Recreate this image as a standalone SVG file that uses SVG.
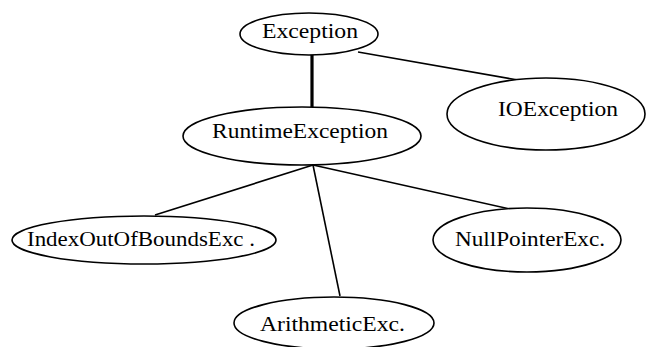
<svg xmlns="http://www.w3.org/2000/svg" width="648" height="347" viewBox="0 0 648 347">
  <style>
    .node ellipse { fill: #ffffff; stroke: #000000; stroke-width: 1.6; }
    .node text { font-family: "Liberation Serif", "Times New Roman", serif; font-size: 21px; fill: #000000; }
    .edge { stroke: #000000; stroke-width: 1.6; fill: none; }
    .edge.thick { stroke-width: 3.2; }
  </style>
  <rect width="648" height="347" fill="#ffffff"/>

  <!-- connectors -->
  <g id="connectors">
    <line class="edge thick" x1="312" y1="55" x2="312" y2="107"/>
    <line class="edge" x1="358" y1="52" x2="518" y2="80"/>
    <line class="edge" x1="313" y1="165" x2="155" y2="215"/>
    <line class="edge" x1="313" y1="165" x2="340" y2="296"/>
    <line class="edge" x1="313" y1="165" x2="510" y2="209"/>
  </g>

  <g id="exception" class="node">
    <ellipse cx="309" cy="34" rx="69" ry="21"/>
    <text x="262" y="38" textLength="96" lengthAdjust="spacingAndGlyphs">Exception</text>
  </g>

  <g id="runtime-exception" class="node">
    <ellipse cx="302" cy="136" rx="119" ry="29"/>
    <text x="212" y="138" textLength="176" lengthAdjust="spacingAndGlyphs">RuntimeException</text>
  </g>

  <g id="io-exception" class="node">
    <ellipse cx="546" cy="114" rx="99" ry="36"/>
    <text x="498" y="116" textLength="120" lengthAdjust="spacingAndGlyphs">IOException</text>
  </g>

  <g id="index-out-of-bounds" class="node">
    <ellipse cx="144" cy="240" rx="132" ry="24"/>
    <text x="27" y="246" textLength="228" lengthAdjust="spacingAndGlyphs">IndexOutOfBoundsExc .</text>
  </g>

  <g id="null-pointer" class="node">
    <ellipse cx="527" cy="240" rx="94" ry="32"/>
    <text x="455" y="246" textLength="150" lengthAdjust="spacingAndGlyphs">NullPointerExc.</text>
  </g>

  <g id="arithmetic" class="node">
    <ellipse cx="334" cy="323" rx="100" ry="26"/>
    <text x="260" y="331" textLength="145" lengthAdjust="spacingAndGlyphs">ArithmeticExc.</text>
  </g>
</svg>
